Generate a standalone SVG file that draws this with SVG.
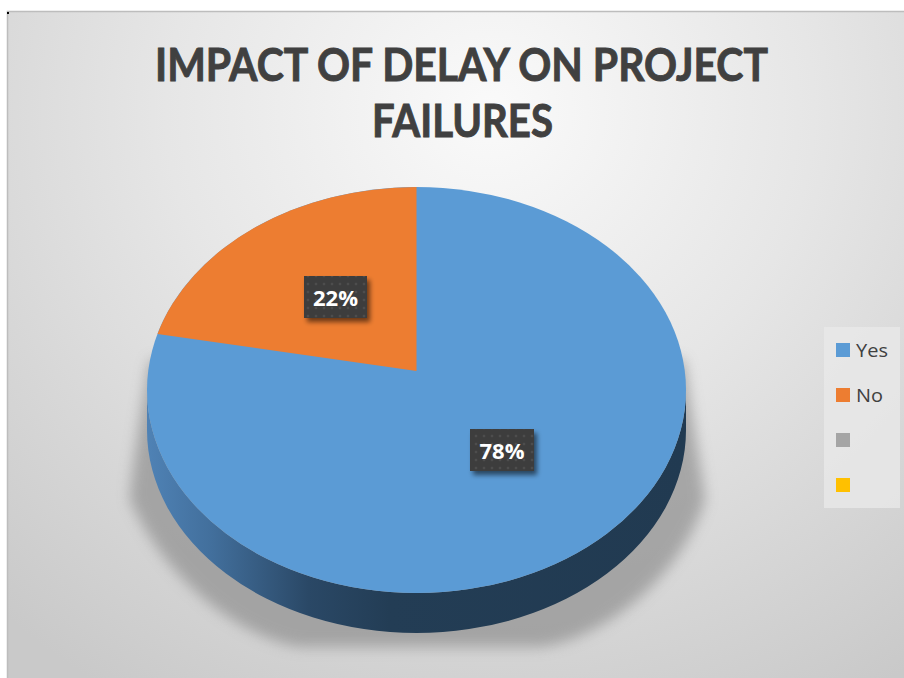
<svg xmlns="http://www.w3.org/2000/svg" width="904" height="678" viewBox="0 0 904 678">
  <defs>
    <radialGradient id="bg" cx="490" cy="110" r="720" gradientUnits="userSpaceOnUse" gradientTransform="translate(490 110) scale(1 0.95) translate(-490 -110)">
      <stop offset="0" stop-color="#fafafa"/>
      <stop offset="0.45" stop-color="#e6e6e6"/>
      <stop offset="1" stop-color="#c9c9c9"/>
    </radialGradient>
    <linearGradient id="side" x1="147" y1="0" x2="686" y2="0" gradientUnits="userSpaceOnUse">
      <stop offset="0" stop-color="#4f82b5"/>
      <stop offset="0.12" stop-color="#426f9c"/>
      <stop offset="0.3" stop-color="#2a4866"/>
      <stop offset="0.45" stop-color="#233d55"/>
      <stop offset="1" stop-color="#213a51"/>
    </linearGradient>
    <filter id="blur" x="-20%" y="-20%" width="140%" height="140%">
      <feGaussianBlur stdDeviation="7"/>
    </filter>
    <filter id="lblshadow" x="-30%" y="-30%" width="160%" height="160%">
      <feGaussianBlur in="SourceAlpha" stdDeviation="2.5"/>
      <feOffset dx="3" dy="4" result="o"/>
      <feComponentTransfer><feFuncA type="linear" slope="0.55"/></feComponentTransfer>
      <feMerge><feMergeNode/><feMergeNode in="SourceGraphic"/></feMerge>
    </filter>
    <pattern id="dots" width="8" height="8" patternUnits="userSpaceOnUse">
      <rect width="8" height="8" fill="#3d3d3d"/>
      <circle cx="4" cy="4" r="1.3" fill="#4d4d4d"/>
    </pattern>
    <style>
      .title { font-family: Lato, "Open Sans", "Liberation Sans", sans-serif; font-weight: bold; font-size: 45px; fill: #404040; stroke: #404040; stroke-width: 0.9px; }
      .pct { font-family: "Open Sans", Lato, "Liberation Sans", sans-serif; font-weight: bold; font-size: 21px; fill: #ffffff; text-anchor: middle; }
      .leg { font-family: "Open Sans", Lato, "Liberation Sans", sans-serif; font-size: 19px; fill: #404040; }
      .lbl { fill: url(#dots); filter: url(#lblshadow); }
    </style>
  </defs>

  <rect x="0" y="0" width="904" height="678" fill="#ffffff"/>
  <g id="chart-area">
    <rect x="7" y="11" width="897" height="667" fill="url(#bg)"/>
    <path d="M7.5 678 V11.5 H904" fill="none" stroke="#bdbdbd" stroke-width="1.5"/>
    <rect x="7" y="12" width="2" height="2" fill="#000000"/>
  </g>

  <g id="title">
    <text class="title" x="155" y="81" textLength="613" lengthAdjust="spacingAndGlyphs">IMPACT OF DELAY ON PROJECT</text>
    <text class="title" x="372" y="137" textLength="181" lengthAdjust="spacingAndGlyphs">FAILURES</text>
  </g>

  <g id="pie-shadow">
    <path d="M150 360 C140 420 132 470 130 500 C170 590 250 640 300 647 L540 647 C600 640 680 580 705 500 C700 460 692 420 684 360 Z" fill="#8f8f8f" opacity="0.7" filter="url(#blur)"/>
  </g>

  <g id="pie">
    <path id="pie-side" d="M147 390 A269.5 203 0 0 0 686 390 L686 430 A269.5 203 0 0 1 147 430 Z" fill="url(#side)"/>
    <g id="slice-yes">
      <ellipse cx="416.5" cy="390" rx="269.5" ry="203" fill="#5b9bd5"/>
    </g>
    <g id="slice-no">
      <path d="M416.5 371 L416.5 187 A269.5 203 0 0 0 157.5 334 Z" fill="#ed7d31"/>
    </g>
  </g>

  <g id="label-no">
    <rect class="lbl" x="304" y="276" width="63" height="42"/>
    <text class="pct" x="335.5" y="306" textLength="45" lengthAdjust="spacingAndGlyphs">22%</text>
  </g>
  <g id="label-yes">
    <rect class="lbl" x="470" y="429" width="64" height="42"/>
    <text class="pct" x="502" y="459" textLength="45" lengthAdjust="spacingAndGlyphs">78%</text>
  </g>

  <g id="legend">
    <rect x="824" y="327" width="76" height="181" fill="#e8e8e8" opacity="0.8"/>
    <rect x="836" y="343" width="14" height="14" fill="#5b9bd5"/>
    <text class="leg" x="856" y="357" textLength="32" lengthAdjust="spacingAndGlyphs">Yes</text>
    <rect x="836" y="388" width="14" height="14" fill="#ed7d31"/>
    <text class="leg" x="856" y="402" textLength="27" lengthAdjust="spacingAndGlyphs">No</text>
    <rect x="836" y="433" width="14" height="14" fill="#a5a5a5"/>
    <rect x="836" y="478" width="14" height="14" fill="#ffc000"/>
  </g>

  <g id="connectors"/>
</svg>
